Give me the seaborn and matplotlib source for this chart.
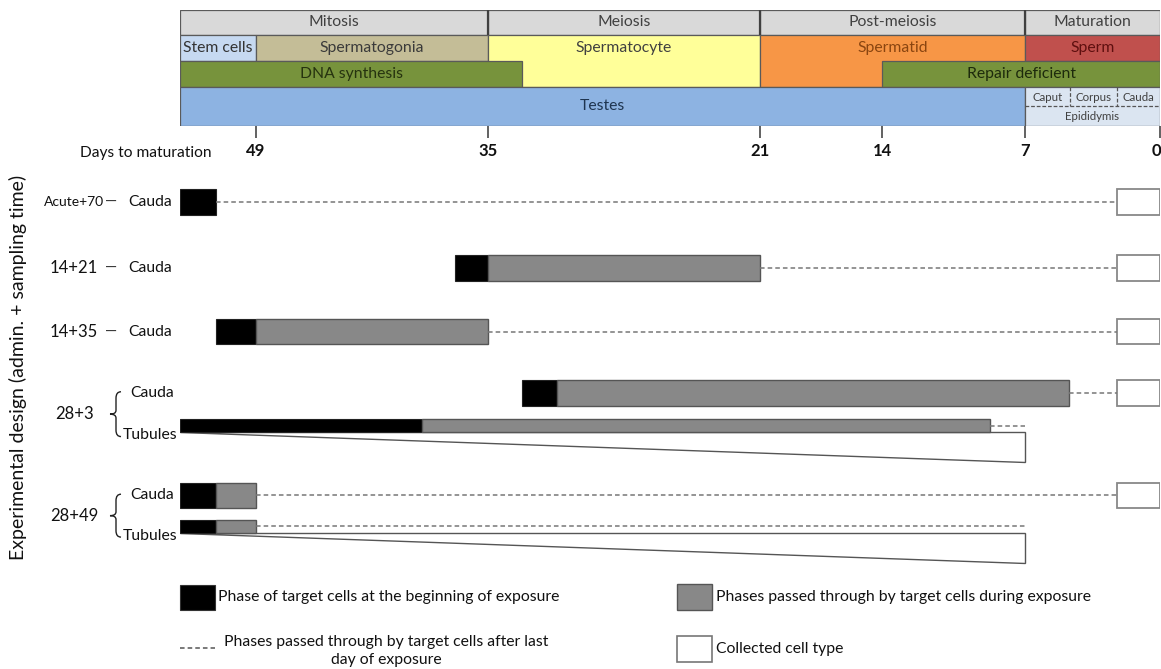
import numpy as np
import pandas as pd
import seaborn as sns
import matplotlib.pyplot as plt
from matplotlib.path import Path
from matplotlib.patches import PathPatch, Rectangle
from matplotlib.transforms import blended_transform_factory, offset_copy

sns.set_theme(style="white")
plt.rcParams['font.family'] = ['Lato', 'DejaVu Sans']

# ---- data: everything in days to maturation ----
tick_days = [49, 35, 21, 14, 7, 0]
left_day = 53.6

# the original diagram is not drawn to a linear scale: where each day sits
day_anchor = [0, 7, 14, 21, 35, 49, 60]
pos_anchor = [0, 135, 278, 400, 672, 904, 1086]

head_label = ['Mitosis', 'Meiosis', 'Post-meiosis', 'Maturation',
              'Stem cells', 'Spermatogonia', 'Spermatocyte', 'Spermatid', 'Sperm',
              'DNA synthesis', 'Repair deficient', 'Testes', '']
head_from = [53.6, 35, 21, 7, 53.6, 49, 35, 21, 7, 53.6, 14, 53.6, 7]
head_to = [35, 21, 7, 0, 49, 35, 21, 7, 0, 33.25, 0, 7, 0]
head_row0 = [0, 0, 0, 0, 1, 1, 1, 1, 1, 2, 2, 3, 3]
head_row1 = [0, 0, 0, 0, 1, 1, 2, 2, 1, 2, 2, 3, 3]
head_color = ['#d9d9d9', '#d9d9d9', '#d9d9d9', '#d9d9d9',
              '#c6d9f1', '#c4bd97', '#ffff99', '#f79646', '#c0504d',
              '#77933c', '#77933c', '#8db3e2', '#dbe5f1']
head_text = ['#404040', '#404040', '#404040', '#404040',
             '#333333', '#3a3a3a', '#404040', '#8a4510', '#5e0f0f',
             '#26330f', '#1d2a0c', '#1f3550', '#404040']

epi_parts = ['Caput', 'Corpus', 'Cauda']
epi_bounds = [7, 4.67, 2.23, 0]

design = ['Acute+70', '14+21', '14+35', '28+3', '28+3', '28+49', '28+49']
tissue = ['Cauda', 'Cauda', 'Cauda', 'Cauda', 'Tubules', 'Cauda', 'Tubules']
black_from = [53.6, 37.0, 51.4, 33.25, 53.6, 53.6, 53.6]
black_to = [51.4, 35.0, 49.0, 31.45, 39.0, 51.4, 51.4]
gray_to = [51.4, 21.0, 35.0, 4.7, 8.7, 49.0, 49.0]
dash_to = [2.23, 2.23, 2.23, 2.23, 7.0, 2.23, 7.0]

legend_labels = ['Phase of target cells at the beginning of exposure',
                 'Phases passed through by target cells during exposure',
                 'Phases passed through by target cells after last\nday of exposure',
                 'Collected cell type']

rows = pd.DataFrame({'design': design, 'tissue': tissue, 'black_from': black_from,
                     'black_to': black_to, 'gray_to': gray_to, 'dash_to': dash_to})
# vertical layout of the rows (row units, top = 0)
rows['y'] = [0, 1.03, 2.02, 2.98, 3.49, 4.58, 5.06]


def fwd(d):
    return np.interp(d, day_anchor, pos_anchor)


def inv(p):
    return np.interp(p, pos_anchor, day_anchor)


def mid_day(a, b):
    return inv((fwd(a) + fwd(b)) / 2)


W, H = 1161, 669
L, R = 180, 1160
fig = plt.figure(figsize=(W / 100, H / 100), dpi=100)

# ---- header ----
row_edges = [0, 25, 51, 77, 116]
hax = fig.add_axes([L / W, 1 - 126 / H, (R - L) / W, 116 / H])
hax.set_xscale('function', functions=(fwd, inv))
hax.set_xlim(left_day, 0)
hax.set_ylim(116, 0)
for lab, a, b, r0, r1, fc, tc in zip(head_label, head_from, head_to, head_row0,
                                     head_row1, head_color, head_text):
    top, bot = row_edges[r0], row_edges[r1 + 1]
    hax.barh((top + bot) / 2, b - a, left=a, height=bot - top, color=fc,
             edgecolor='#5a5a5a', linewidth=0.9)
    if lab:
        ty = (row_edges[r0] + row_edges[r0 + 1]) / 2
        hax.text(mid_day(a, b), ty, lab, ha='center', va='center', fontsize=11.3, color=tc)
hax.vlines([35, 21, 7], 0, row_edges[1], colors='#404040', lw=1.6)

# epididymis subdivisions
ymid = 96
hax.hlines(ymid, 7, 0, colors='#555', linestyles=(0, (3, 1.5)), lw=0.9)
hax.vlines(epi_bounds[1:-1], row_edges[3], ymid, colors='#555', linestyles=(0, (3, 1.5)), lw=0.9)
for p, a, b in zip(epi_parts, epi_bounds[:-1], epi_bounds[1:]):
    hax.text(mid_day(a, b), (row_edges[3] + ymid) / 2 + 1, p, ha='center', va='center',
             fontsize=8.3, color='#404040')
hax.text(mid_day(7, 0), (ymid + row_edges[4]) / 2 + 1, 'Epididymis', ha='center', va='center',
         fontsize=8.3, color='#404040')

sns.despine(ax=hax, left=True, bottom=True)
hax.set_yticks([])
hax.set_xticks(tick_days)
hax.set_xticklabels([str(d) for d in tick_days], fontsize=12, fontweight='bold', color='#111')
hax.tick_params(axis='x', bottom=True, direction='out', length=8.5, width=1.3,
                color='#555', pad=4)
# last label sits on the figure edge; nudge it just inside
last = hax.get_xticklabels()[-1]
last.set_transform(offset_copy(last.get_transform(), fig=fig, x=-4, units='dots'))
fig.text(80 / W, 1 - 153 / H, 'Days to maturation', fontsize=11.2, va='center', ha='left',
         color='#111')

# ---- timeline rows ----
ax = fig.add_axes([L / W, 1 - 580 / H, (R - L) / W, (580 - 167) / H])
ax.set_xscale('function', functions=(fwd, inv))
ax.set_xlim(left_day, 0)
ax.set_ylim(5.9, -0.55)
ax.axis('off')
for _, r in rows.iterrows():
    h = 0.4 if r.tissue == 'Cauda' else 0.2
    ax.hlines(r.y, r.gray_to, r.dash_to, colors='#777', linestyles=(0, (3, 2)), lw=1.1)
    if r.tissue == 'Tubules':
        yt = r.y + h / 2
        ax.fill([left_day, r.dash_to, r.dash_to], [yt, yt, yt + 0.47],
                facecolor='white', edgecolor='#555', lw=1)
    ax.barh(r.y, r.black_to - r.black_from, left=r.black_from, height=h,
            color='black', edgecolor='#222', lw=0.8)
    if r.gray_to != r.black_to:
        ax.barh(r.y, r.gray_to - r.black_to, left=r.black_to, height=h,
                color='#888888', edgecolor='#555', lw=1)
    if r.tissue == 'Cauda':
        ax.barh(r.y, 0 - r.dash_to, left=r.dash_to, height=h, color='white',
                edgecolor='#888', lw=1.3)

# ---- labels on the left and legend (figure pixel coordinates) ----
ov = fig.add_axes([0, 0, 1, 1])
ov.set_xlim(0, W)
ov.set_ylim(H, 0)
ov.axis('off')
ov.patch.set_visible(False)
tr = blended_transform_factory(ov.transData, ax.transData)

ov.text(18, 367, 'Experimental design (admin. + sampling time)', rotation=90,
        ha='center', va='center', fontsize=14, color='#111')

for d, grp in rows.groupby('design', sort=False):
    if len(grp) == 1:
        y = grp.y.iloc[0]
        fs = 10 if d.startswith('Acute') else 12
        ov.text(74, y, d, transform=tr, ha='center', va='center', fontsize=fs, color='#111')
        ov.text(111, y, '\u2014', transform=tr, ha='center', va='center', fontsize=11, color='#333')
        ov.text(128, y, grp.tissue.iloc[0], transform=tr, ha='left', va='center',
                fontsize=11.3, color='#111')
    else:
        y0, y1 = grp.y.iloc[0], grp.y.iloc[1] + 0.15
        ym = (y0 + y1) / 2
        ov.text(74, ym, d, transform=tr, ha='center', va='center', fontsize=12, color='#111')
        ov.text(130, y0, 'Cauda', transform=tr, ha='left', va='center', fontsize=11.3, color='#111')
        ov.text(123, y1, 'Tubules', transform=tr, ha='left', va='center', fontsize=11.3,
                color='#111')
        verts = [(121, y0 - 0.02), (116, y0 - 0.02), (116, y0 + 0.08),
                 (116, ym - 0.06), (116, ym), (110, ym),
                 (116, ym), (116, ym + 0.06),
                 (116, y1 - 0.08), (116, y1 + 0.02), (121, y1 + 0.02)]
        codes = [Path.MOVETO, Path.CURVE3, Path.CURVE3, Path.LINETO, Path.CURVE3, Path.CURVE3,
                 Path.CURVE3, Path.CURVE3, Path.LINETO, Path.CURVE3, Path.CURVE3]
        ov.add_patch(PathPatch(Path(verts, codes), transform=tr, facecolor='none',
                               edgecolor='#222', lw=1))

# legend
ov.add_patch(Rectangle((180, 585), 35, 25, facecolor='black', edgecolor='#333', lw=0.8))
ov.text(218, 597, legend_labels[0], ha='left', va='center', fontsize=11.3, color='#111')
ov.add_patch(Rectangle((677, 584), 35, 26, facecolor='#888888', edgecolor='#555', lw=1))
ov.text(716, 597, legend_labels[1], ha='left', va='center', fontsize=11.3, color='#111')
ov.plot([180, 215], [648, 648], color='#555', ls=(0, (3, 2)), lw=1.1)
ov.text(386, 651, legend_labels[2], ha='center', va='center', fontsize=11.3, color='#111',
        multialignment='center', linespacing=1.35)
ov.add_patch(Rectangle((677, 636), 35, 26, facecolor='white', edgecolor='#777', lw=1.2))
ov.text(716, 649, legend_labels[3], ha='left', va='center', fontsize=11.3, color='#111')

fig.savefig('out.png', dpi=100)
